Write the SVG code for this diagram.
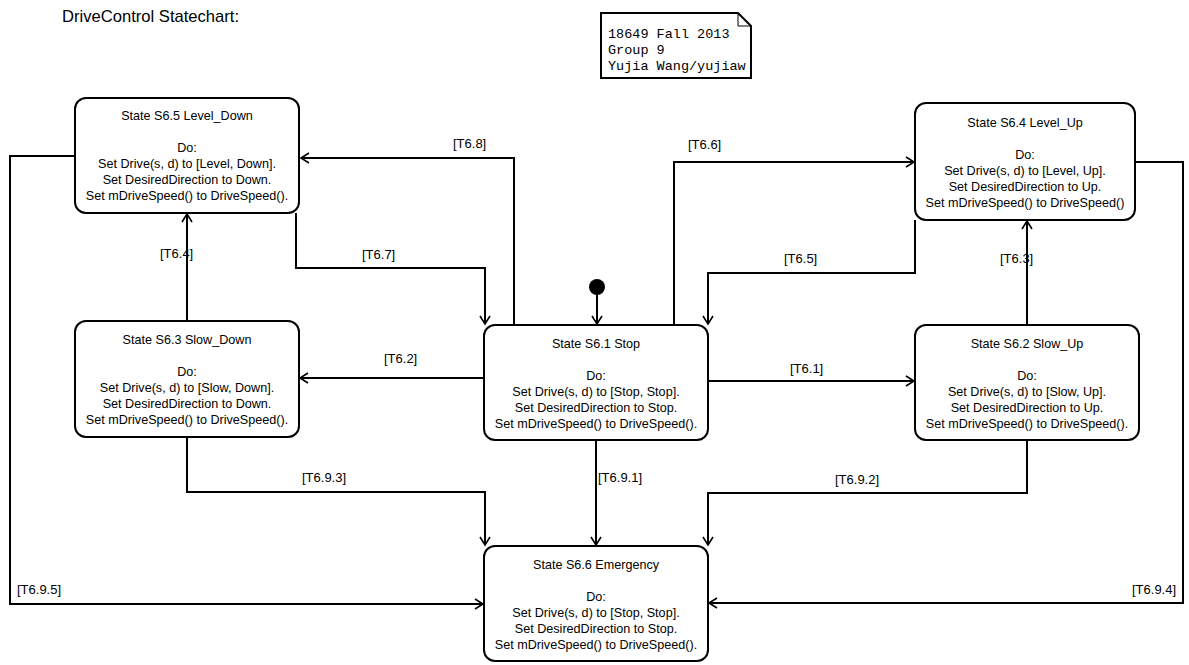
<svg xmlns="http://www.w3.org/2000/svg" width="1189" height="665" viewBox="0 0 1189 665">
<defs>
<marker id="arr" markerWidth="12" markerHeight="12" refX="9" refY="6" orient="auto" markerUnits="userSpaceOnUse">
<path d="M1,1 L9,6 L1,11" fill="none" stroke="#000" stroke-width="1.6"/>
</marker>
<style>
.box{fill:#fff;stroke:#000;stroke-width:2}
.t{font-family:"Liberation Sans",Arial,sans-serif;font-size:12.6px;fill:#000;text-anchor:middle}
.lbl{font-family:"Liberation Sans",Arial,sans-serif;font-size:13px;fill:#000}
.c{fill:none;stroke:#000;stroke-width:2;marker-end:url(#arr)}
.m{font-family:"Liberation Mono","Courier New",monospace;font-size:13.5px;fill:#000}
</style>
</defs>
<rect width="1189" height="665" fill="#fff"/>
<text x="62" y="22" font-family="Liberation Sans,Arial,sans-serif" font-size="16.6" fill="#000">DriveControl Statechart:</text>
<g id="note">
<path d="M601,13 H738 L751,26 V78 H601 Z" fill="#fff" stroke="#000" stroke-width="2"/>
<path d="M738,13 V26 H751" fill="none" stroke="#000" stroke-width="1"/>
<text class="m" x="608" y="38">18649 Fall 2013</text>
<text class="m" x="608" y="54">Group 9</text>
<text class="m" x="608" y="70">Yujia Wang/yujiaw</text>
</g>
<g id="connectors">
<circle cx="597" cy="287" r="8" fill="#000"/>
<path class="c" d="M597,295 V324"/>
<path class="c" d="M514,325 V158 H301"/>
<path class="c" d="M296,213 V268 H485 V324"/>
<path class="c" d="M674,325 V162 H914"/>
<path class="c" d="M915,220 V273 H708 V324"/>
<path class="c" d="M1027,325 V221"/>
<path class="c" d="M187,321 V214"/>
<path class="c" d="M484,378 H300"/>
<path class="c" d="M708,381 H914"/>
<path class="c" d="M596,440 V545"/>
<path class="c" d="M187,437 V492 H485 V545"/>
<path class="c" d="M1027,440 V493 H708 V545"/>
<path class="c" d="M75,156 H10 V604 H483"/>
<path class="c" d="M1135,162 H1183 V603 H709"/>
<text class="lbl" x="453" y="148">[T6.8]</text>
<text class="lbl" x="362" y="259">[T6.7]</text>
<text class="lbl" x="688" y="149">[T6.6]</text>
<text class="lbl" x="784" y="263">[T6.5]</text>
<text class="lbl" x="1000" y="263">[T6.3]</text>
<text class="lbl" x="160" y="258">[T6.4]</text>
<text class="lbl" x="384" y="363">[T6.2]</text>
<text class="lbl" x="790" y="373">[T6.1]</text>
<text class="lbl" x="598" y="482">[T6.9.1]</text>
<text class="lbl" x="302" y="482">[T6.9.3]</text>
<text class="lbl" x="835" y="484">[T6.9.2]</text>
<text class="lbl" x="17" y="594">[T6.9.5]</text>
<text class="lbl" x="1132" y="594">[T6.9.4]</text>
</g>
<g id="s65">
<rect class="box" x="75" y="98" width="224" height="115" rx="11"/>
<text class="t" x="187" y="120">State S6.5 Level_Down</text>
<text class="t" x="187" y="152">Do:</text>
<text class="t" x="187" y="168">Set Drive(s, d) to [Level, Down].</text>
<text class="t" x="187" y="184">Set DesiredDirection to Down.</text>
<text class="t" x="187" y="200">Set mDriveSpeed() to DriveSpeed().</text>
</g>
<g id="s64">
<rect class="box" x="915" y="103" width="220" height="117" rx="11"/>
<text class="t" x="1025" y="127">State S6.4 Level_Up</text>
<text class="t" x="1025" y="159">Do:</text>
<text class="t" x="1025" y="175">Set Drive(s, d) to [Level, Up].</text>
<text class="t" x="1025" y="191">Set DesiredDirection to Up.</text>
<text class="t" x="1025" y="207">Set mDriveSpeed() to DriveSpeed()</text>
</g>
<g id="s63">
<rect class="box" x="75" y="321" width="224" height="116" rx="11"/>
<text class="t" x="187" y="344">State S6.3 Slow_Down</text>
<text class="t" x="187" y="376">Do:</text>
<text class="t" x="187" y="392">Set Drive(s, d) to [Slow, Down].</text>
<text class="t" x="187" y="408">Set DesiredDirection to Down.</text>
<text class="t" x="187" y="424">Set mDriveSpeed() to DriveSpeed().</text>
</g>
<g id="s61">
<rect class="box" x="484" y="325" width="224" height="115" rx="11"/>
<text class="t" x="596" y="348">State S6.1 Stop</text>
<text class="t" x="596" y="380">Do:</text>
<text class="t" x="596" y="396">Set Drive(s, d) to [Stop, Stop].</text>
<text class="t" x="596" y="412">Set DesiredDirection to Stop.</text>
<text class="t" x="596" y="428">Set mDriveSpeed() to DriveSpeed().</text>
</g>
<g id="s62">
<rect class="box" x="915" y="325" width="224" height="115" rx="11"/>
<text class="t" x="1027" y="348">State S6.2 Slow_Up</text>
<text class="t" x="1027" y="380">Do:</text>
<text class="t" x="1027" y="396">Set Drive(s, d) to [Slow, Up].</text>
<text class="t" x="1027" y="412">Set DesiredDirection to Up.</text>
<text class="t" x="1027" y="428">Set mDriveSpeed() to DriveSpeed().</text>
</g>
<g id="s66">
<rect class="box" x="484" y="546" width="224" height="115" rx="11"/>
<text class="t" x="596" y="569">State S6.6 Emergency</text>
<text class="t" x="596" y="601">Do:</text>
<text class="t" x="596" y="617">Set Drive(s, d) to [Stop, Stop].</text>
<text class="t" x="596" y="633">Set DesiredDirection to Stop.</text>
<text class="t" x="596" y="649">Set mDriveSpeed() to DriveSpeed().</text>
</g>
</svg>
